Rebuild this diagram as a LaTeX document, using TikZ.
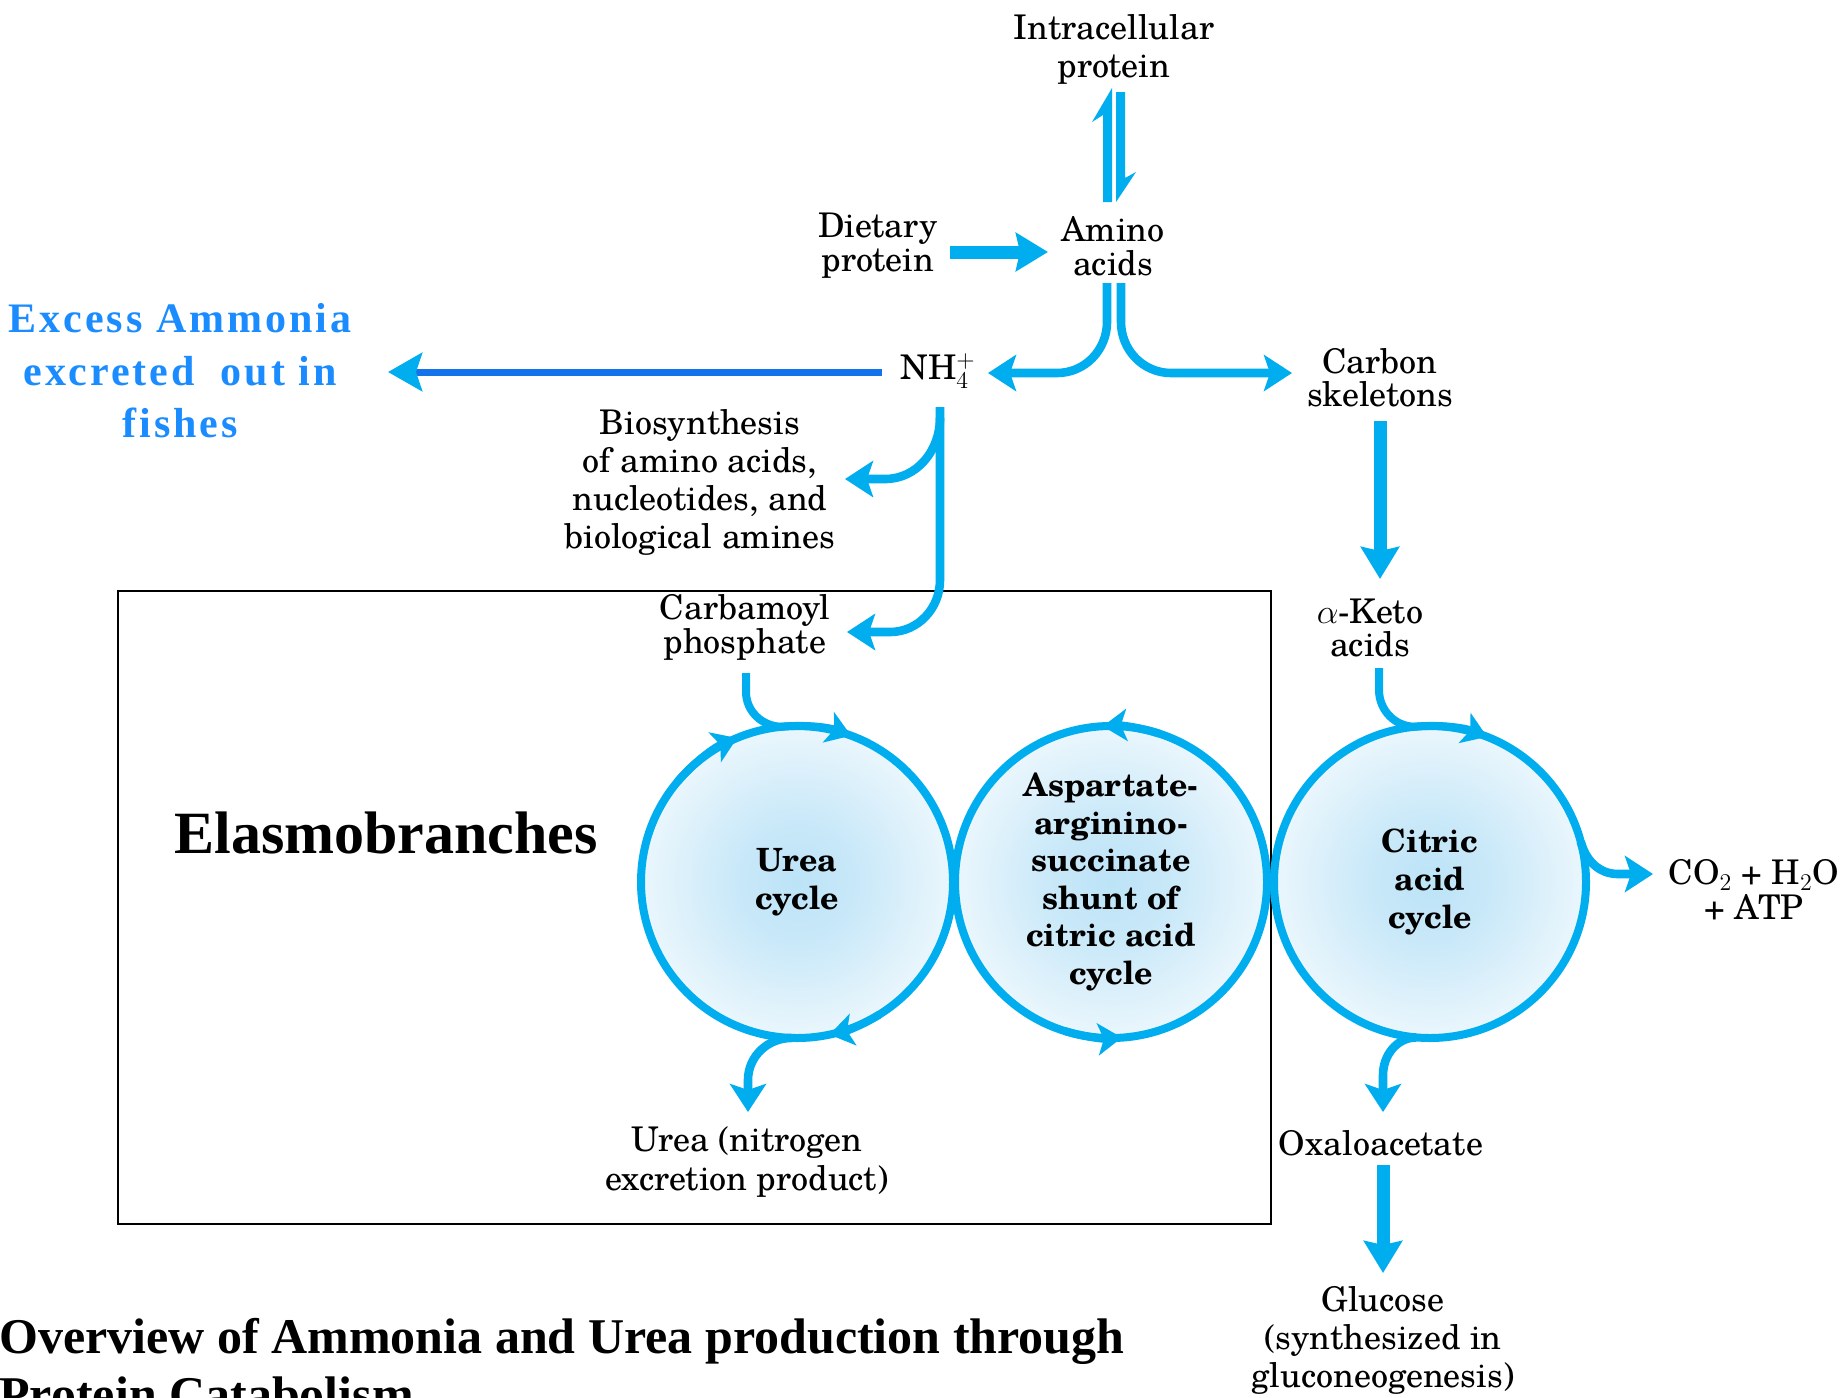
\documentclass[tikz,border=0pt]{standalone}
\usepackage{fontspec}
\usetikzlibrary{arrows.meta}
\newfontfamily\timesfont{Liberation Serif}
\newfontfamily\excessfont[LetterSpace=7]{Liberation Serif}
\newfontfamily\schola{TeX Gyre Schola}
\definecolor{acyan}{RGB}{0,174,239}
\definecolor{exblue}{RGB}{26,140,255}
\definecolor{lineblue}{RGB}{20,115,235}
\definecolor{glowc}{RGB}{188,227,247}
\pgfdeclareradialshading{glow}{\pgfpoint{0bp}{0bp}}{color(0bp)=(glowc); color(10bp)=(glowc!80!white); color(22bp)=(glowc!40!white); color(35bp)=(white); color(50bp)=(white)}
\tikzset{
  lbl/.style={font=\schola\fontsize{17}{19}\selectfont, align=center, inner sep=0pt},
  ring/.style={circle, draw=acyan, line width=4pt, minimum size=156pt, inner sep=0pt, shade, shading=glow, align=center},
  ringtxt/.style={font=\schola\bfseries\fontsize{16}{18.8}\selectfont},
  flowline/.style={draw=acyan, line width=4.3pt},
  flow/.style={flowline, -{Stealth[length=14pt,width=18pt,inset=3pt]}},
  cycarrow/.style={draw=acyan, line width=4pt, -{Stealth[length=12pt,width=16pt,inset=3pt]}},
  bigflow/.style={draw=acyan, line width=6.5pt, -{Stealth[length=16pt,width=19pt,inset=2pt]}},
  harp/.style={fill=acyan, draw=none},
}
\begin{document}
\begin{tikzpicture}[x=0.5pt, y=0.5pt]
\clip (0,0) rectangle (1845,-1397);
\fill[white] (0,0) rectangle (1845,-1397);

% box
\draw[black, line width=1.2pt] (118,-591) rectangle (1271,-1224);

% labels
\node[lbl, font=\schola\fontsize{17}{19}\selectfont] (intra) at (1114,-49) {Intracellular\\protein};
\node[lbl, font=\schola\fontsize{17}{17}\selectfont] (diet) at (878,-246) {Dietary\\protein};
\node[lbl, font=\schola\fontsize{17}{17}\selectfont] (amino) at (1113,-246) {Amino\\acids};
\node[lbl] (nh4) at (938,-371) {NH$_4^+$};
\node[lbl, font=\schola\fontsize{17}{16.5}\selectfont] (carbon) at (1380,-378) {Carbon\\skeletons};
\node[lbl, font=\schola\fontsize{17}{16.5}\selectfont] (keto) at (1370,-628) {$\alpha$-Keto\\acids};
\node[lbl, font=\schola\fontsize{17}{19}\selectfont] (bio) at (700,-482) {Biosynthesis\\of amino acids,\\nucleotides, and\\biological amines};
\node[lbl, font=\schola\fontsize{17}{16}\selectfont] (carb) at (745,-627) {Carbamoyl\\phosphate};
\node[lbl, font=\schola\fontsize{17}{19.5}\selectfont] (urea) at (747,-1162) {Urea (nitrogen\\excretion product)};
\node[lbl] (oxalo) at (1381,-1143) {Oxaloacetate};
\node[lbl, font=\schola\fontsize{17}{19}\selectfont] (gluc) at (1383,-1340) {Glucose\\(synthesized in\\gluconeogenesis)};
\node[lbl, font=\schola\fontsize{17}{17.5}\selectfont] (co2) at (1754,-890) {CO$_2$ + H$_2$O\\+ ATP};

\node[align=center, inner sep=0pt, text=exblue, font=\excessfont\bfseries\fontsize{21}{26.2}\selectfont] (excess) at (180,-371) {Excess Ammonia\\excreted\hspace{0.3em} out in\\fishes};
\node[inner sep=0pt, font=\timesfont\bfseries\fontsize{30}{32}\selectfont] (elasmo) at (386,-833) {Elasmobranches};
\node[anchor=north west, align=left, inner sep=0pt, font=\timesfont\bfseries\fontsize{25}{29}\selectfont] (cap) at (-1,-1318) {Overview of Ammonia and Urea production through\\Protein Catabolism};

% cycles
\node[ring, ringtxt] (ucyc) at (797,-882) {Urea\\cycle};
\node[ring, ringtxt] (acyc) at (1111,-882) {Aspartate-\\arginino-\\succinate\\shunt of\\citric acid\\cycle};
\node[ring, ringtxt] (ccyc) at (1430,-882) {Citric\\acid\\cycle};

% harpoons between amino acids and intracellular protein
\fill[harp] (1112,-202) -- (1112,-88) -- (1092,-122) -- (1103,-115) -- (1103,-202) -- cycle;
\fill[harp] (1116,-92) -- (1116,-202) -- (1136,-172) -- (1125,-178) -- (1125,-92) -- cycle;

% dietary -> amino
\draw[bigflow] (950,-252) -- (1048,-252);

% amino -> NH4 and carbon skeletons
\draw[flow] (1107,-283) -- (1107,-322) to[out=-90,in=0] (1057,-373) -- (988,-373);
\draw[flow] (1121,-283) -- (1121,-322) to[out=-90,in=180] (1171,-373) -- (1292,-373);

% NH4 -> excess ammonia
\draw[draw=lineblue, line width=3.5pt, -{Stealth[length=17pt,width=19pt,inset=3pt,color=acyan]}] (882,-372) -- (388,-372);

% NH4 downward
\draw[flow] (940,-407) -- (940,-580) to[out=-90,in=0] (890,-632) -- (847,-632);
\draw[flow] (940,-418) to[out=-90,in=0] (885,-479) -- (845,-479);

% carbon skeletons -> keto acids
\draw[bigflow] (1380,-421) -- (1380,-579);

% carbamoyl -> urea cycle
\draw[cycarrow] (746,-673) -- (746,-692) to[out=-90,in=180] (782,-726.7) arc[start angle=95.5, end angle=69.7, radius=78pt];
\draw[cycarrow] (ucyc.center) ++(140:78pt) arc[start angle=140, end angle=112.6, radius=78pt];
\draw[cycarrow] (ucyc.center) ++(-58:78pt) arc[start angle=-58, end angle=-78, radius=78pt];
% urea output
\draw[flow] (791.6,-1037.9) to[out=180,in=90] (748,-1080) -- (748,-1112);

% aspartate arrows
\draw[cycarrow] (acyc.center) ++(72:78pt) arc[start angle=72, end angle=93, radius=78pt];
\draw[cycarrow] (acyc.center) ++(-107:78pt) arc[start angle=-107, end angle=-86, radius=78pt];

% keto -> citric
\draw[cycarrow] (1379,-668) -- (1379,-690) to[out=-90,in=180] (1415,-726.7) arc[start angle=95.5, end angle=68.5, radius=78pt];
% citric -> CO2
\draw[flow] (1580.7,-841.6) to[out=-75,in=180] (1618,-874) -- (1653,-874);
% citric -> oxaloacetate
\draw[flow] (1416.4,-1037.4) to[out=180,in=90] (1383,-1075) -- (1383,-1112);
% oxaloacetate -> glucose
\draw[bigflow] (1383,-1165) -- (1383,-1273);
\end{tikzpicture}
\end{document}
